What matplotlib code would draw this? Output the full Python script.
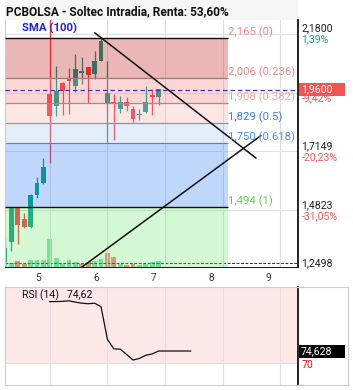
import matplotlib
matplotlib.use("Agg")
import matplotlib.pyplot as plt
import matplotlib.transforms as mtransforms
from matplotlib.patches import Rectangle
from matplotlib.lines import Line2D
import numpy as np

plt.rcParams['font.family'] = ['Roboto', 'DejaVu Sans']

# ---------------- data ----------------
title = "PCBOLSA - Soltec Intradia, Renta: 53,60%"
sma_label = "SMA (100)"

opens  = [1.279, 1.357, 1.495, 1.448, 1.417, 1.543, 1.590, 1.942, 1.894, 1.986, 2.000, 1.973, 2.025,
          2.050, 2.021, 2.074, 1.907, 1.909, 1.884, 1.910, 1.884, 1.859, 1.871, 1.940, 1.929]
highs  = [1.376, 1.497, 1.497, 1.472, 1.545, 1.614, 1.689, 2.260, 2.053, 1.988, 2.045, 2.101, 2.088,
          2.051, 2.111, 2.167, 2.074, 1.942, 1.933, 1.929, 1.894, 1.884, 1.973, 1.963, 1.963]
lows   = [1.262, 1.321, 1.349, 1.414, 1.414, 1.531, 1.588, 1.669, 1.855, 1.860, 1.862, 1.950, 1.982,
          1.907, 2.000, 2.072, 1.752, 1.762, 1.867, 1.874, 1.832, 1.841, 1.869, 1.860, 1.900]
closes = [1.332, 1.495, 1.424, 1.416, 1.543, 1.590, 1.654, 1.857, 1.955, 1.956, 1.995, 2.041, 2.035,
          2.019, 2.074, 2.153, 1.946, 1.906, 1.910, 1.896, 1.845, 1.862, 1.910, 1.929, 1.962]
volumes = [50, 40, 57, 27, 67, 67, 67, 277, 94, 34, 67, 54, 34, 50, 60, 77, 144, 100, 34, 17, 27, 17,
           34, 47, 57]
volume_avg = 44

fib_levels = [2.165, 2.006, 1.908, 1.829, 1.750, 1.494]
fib_ratios = ['0', '0.236', '0.382', '0.5', '0.618', '1']

price_ticks = [2.18, 1.9475, 1.7149, 1.4823, 1.2498]
price_tick_labels = ['2,1800', '', '1,7149', '1,4823', '1,2498']
pct_labels = ['1,39%', '-9,42%', '-20,23%', '-31,05%', '']
last_price = 1.96
last_price_label = '1,9600'

day_starts = [7, 16, 25, 34, 43]
day_labels = ['5', '6', '7', '8', '9']

trend_down_x = [14.06, 39.2]
trend_down_y = [2.1836, 1.6891]
trend_up_x = [12.03, 39.95]
trend_up_y = [1.258, 1.7773]

rsi_x = list(range(7, 30))
rsi_values = [93.2, 93.2, 93.3, 93.5, 93.0, 92.6, 92.4, 92.6, 91.3, 79.0, 75.4, 75.3, 73.3, 71.2,
              71.8, 73.0, 73.5, 74.6, 74.6, 74.6, 74.6, 74.6, 74.6]
rsi_title = "RSI (14)"
rsi_title_value = "74,62"
rsi_last_label = "74,628"
rsi_level = 70

# ---------------- style ----------------
UP = '#089981'
DOWN = '#f23645'
VOL_UP = '#74e0a4'
VOL_DOWN = '#f57f7f'
zone_colors = ['#bc0f0f', '#f87676', '#f8acac', '#a5c6ee', '#2a7df5', '#70e870']
zone_alpha = 0.3
fib_text_colors = ['#f08a8a', '#f08a8a', '#f4a8a8', '#3f80dd', '#4d90ea', '#5fcf5f']
fib_x_end = 34.8

W, H = 353, 390
fig = plt.figure(figsize=(W / 100, H / 100), dpi=100)
L = 4.5 / W
Rr = 298 / W
ax = fig.add_axes([L, 1 - 267 / H, Rr - L, (267 - 20) / H])
axr = fig.add_axes([L, 1 - 385 / H, Rr - L, (385 - 287) / H])

xlim = (-0.08, 45.78)
ylim = (1.258, 2.235)

# volume axis underneath
axv = ax.twinx()
axv.set_zorder(ax.get_zorder() - 1)
ax.patch.set_visible(False)
axv.patch.set_facecolor('white')
axv.set_ylim(0, 2470)
axv.set_yticks([])
for s in axv.spines.values():
    s.set_visible(False)

x = np.arange(len(opens))
vol_colors = [VOL_UP] + [VOL_UP if closes[i] >= closes[i - 1] else VOL_DOWN for i in range(1, len(closes))]
axv.bar(x, volumes, width=0.75, color=vol_colors, lw=0)
axv.axhline(volume_avg, color='#333333', lw=0.8, ls=(0, (2.5, 1.5)))

ax.set_xlim(*xlim)
ax.set_ylim(*ylim)

# grid
for d in day_starts:
    ax.axvline(d, color='#dcdcdc', lw=0.8, zorder=0.5)
for v in price_ticks:
    ax.axhline(v, color='#e2e2e2', lw=0.8, zorder=0.5)

# candles
ccols = [UP if c >= o else DOWN for o, c in zip(opens, closes)]
ax.vlines(x, lows, highs, colors=ccols, lw=0.9, zorder=1)
bb = [min(o, c) for o, c in zip(opens, closes)]
bh = [max(abs(c - o), 0.003) for o, c in zip(opens, closes)]
ax.bar(x, bh, bottom=bb, width=0.75, color=ccols, lw=0, zorder=1.1)

# fib lines (under zones) and zones
for i, lev in enumerate(fib_levels):
    if i in (0, len(fib_levels) - 1):
        continue
    ax.hlines(lev, xlim[0], fib_x_end, color='#808080', lw=0.9, zorder=1.5)
bounds = fib_levels + [ylim[0] - 0.2]
for i in range(len(fib_levels)):
    ax.fill_between([xlim[0], fib_x_end], bounds[i + 1], bounds[i], color=zone_colors[i],
                    alpha=zone_alpha, lw=0, zorder=2)
ax.hlines([fib_levels[0], fib_levels[-1]], xlim[0], fib_x_end, color='#111111', lw=1.0, zorder=3)
for lev, r, c in zip(fib_levels, fib_ratios, fib_text_colors):
    ax.text(fib_x_end + 0.05, lev, f"{lev:.3f}".replace('.', ',') + f" ({r})", color=c,
            fontsize=8.2, va='bottom', ha='left', zorder=5)

# last price dashed line
ax.axhline(last_price, color='#3b2fd0', lw=0.9, ls=(0, (3.5, 2.5)), zorder=3.5)

# trend lines
ax.plot(trend_down_x, trend_down_y, color='#111111', lw=1.1, zorder=4)
ax.plot(trend_up_x, trend_up_y, color='#111111', lw=1.1, zorder=4)

# ticks
ax.set_yticks([])
ax.set_xticks([d - 1.8 for d in day_starts])
ax.set_xticklabels(day_labels)
ax.tick_params(axis='x', length=0, pad=4, labelsize=7.3, labelcolor='#333333')
ax.spines['top'].set_visible(False)
ax.spines['left'].set_color('#cccccc')
ax.spines['right'].set_color('#000000')
ax.spines['right'].set_linewidth(1.2)
ax.spines['bottom'].set_color('#222222')

# right price labels
btr = mtransforms.blended_transform_factory(ax.transAxes, ax.transData)
for v, lab, pct in zip(price_ticks, price_tick_labels, pct_labels):
    if lab:
        ax.annotate(lab, xy=(1, v), xycoords=btr, xytext=(2.5, 4), textcoords='offset points',
                    va='center', ha='left', fontsize=7.6, color='#222222', annotation_clip=False)
    if pct:
        ax.annotate(pct, xy=(1, v), xycoords=btr, xytext=(2.5, -4), textcoords='offset points',
                    va='center', ha='left', fontsize=7.6,
                    color='#26a17a' if not pct.startswith('-') else '#f25c5c', annotation_clip=False)

# current price box
yd = ax.transData.transform((0, last_price))[1]
fig.add_artist(Rectangle((299 / W, (yd - 6.5) / H), 46 / W, 13 / H, transform=fig.transFigure,
                         fc='#f25454', ec='none', zorder=10))
fig.text(301 / W, yd / H, last_price_label, color='white', fontsize=7.6, va='center', ha='left', zorder=11)

# SMA label
ax.text(17 / 293.5, 1 - 8 / 247, sma_label, transform=ax.transAxes, color='#2222dd',
        fontsize=8.2, fontweight='bold', va='center', ha='left', zorder=6)

# title bar
fig.add_artist(Rectangle((L, 1 - 20 / H), Rr - L, 20 / H, transform=fig.transFigure,
                         fc='#f5f5f5', ec='none', zorder=-1))
fig.text(6.5 / W, 1 - 12 / H, title, fontsize=8.6, fontweight='bold', color='#111111',
         va='center', ha='left')

# ---------------- RSI ----------------
axr.set_xlim(*xlim)
axr.set_ylim(61.8, 98.7)
axr.axhspan(rsi_level, 100, color='#fde8e8', lw=0, zorder=0.2)
for d in day_starts:
    axr.axvline(d, color='#e0e0e0', lw=0.8, zorder=0.5)
axr.axhline(rsi_level, color='#e0e0e0', lw=0.8, zorder=0.5)
axr.plot(rsi_x, rsi_values, color='#111111', lw=0.9, zorder=3)
axr.set_xticks([])
axr.set_yticks([])
for s in ('left', 'top', 'bottom'):
    axr.spines[s].set_color('#cccccc')
axr.spines['right'].set_color('#000000')
axr.spines['right'].set_linewidth(1.2)
axr.text(17.5 / 293.5, 1 - 8 / 98, rsi_title + "   " + rsi_title_value, transform=axr.transAxes,
         fontsize=7.6, color='#111111', va='center', ha='left')

ydr = axr.transData.transform((0, rsi_values[-1]))[1]
fig.add_artist(Rectangle((299 / W, (ydr - 6.5) / H), 46 / W, 13 / H, transform=fig.transFigure,
                         fc='#000000', ec='none', zorder=10))
fig.text(301 / W, ydr / H, rsi_last_label, color='white', fontsize=7.6, va='center', ha='left', zorder=11)
btr2 = mtransforms.blended_transform_factory(axr.transAxes, axr.transData)
axr.annotate(str(rsi_level), xy=(1, rsi_level), xycoords=btr2, xytext=(2.5, -1), textcoords='offset points',
             va='center', ha='left', fontsize=7.6, color='#ee1111', annotation_clip=False)

# outer frame pieces on the right of RSI panel
fig.add_artist(Line2D([Rr, 348 / W], [1 - 286.5 / H, 1 - 286.5 / H], transform=fig.transFigure,
                      color='#cccccc', lw=0.8))
fig.add_artist(Line2D([Rr, 348 / W], [1 - 385 / H, 1 - 385 / H], transform=fig.transFigure,
                      color='#cccccc', lw=0.8))
fig.add_artist(Line2D([348 / W, 348 / W], [1 - 385 / H, 1 - 286.5 / H], transform=fig.transFigure,
                      color='#cccccc', lw=0.8))

fig.savefig('out.png', dpi=100)
